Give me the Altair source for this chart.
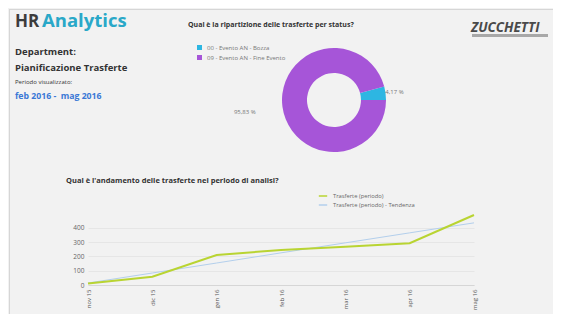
import math
import altair as alt
import pandas as pd

# ---------------- data ----------------
months = ["nov 15", "dic 15", "gen 16", "feb 16", "mar 16", "apr 16", "mag 16"]
trasferte = [10, 58, 210, 245, 268, 292, 490]
tendenza = [14, 84, 154, 225, 295, 365, 435]
series_names = ["Trasferte (periodo)", "Trasferte (periodo) - Tendenza"]
y_ticks = [0, 100, 200, 300, 400]

status = ["00 - Evento AN - Bozza", "09 - Evento AN - Fine Evento"]
status_pct = [4.17, 95.83]
status_labels = ["4,17 %", "95,83 %"]

FONT = "Open Sans"
GREEN = "#b9d432"
TREND = "#b3cfec"
BLUE = "#2db6e2"
PURPLE = "#a655d8"

line_df = pd.DataFrame({
    "month": months * 2,
    "value": trasferte + tendenza,
    "series": [series_names[0]] * len(months) + [series_names[1]] * len(months),
})
pie_df = pd.DataFrame({"status": status, "pct": status_pct, "label": status_labels})

# view = plot area of the line chart; origin at page (88, 215)
OX, OY = 88, 215
TOTAL_W, TOTAL_H = 545, 306


def vx(ax):
    return ax - OX


def vy(ay):
    return ay - OY


# ---------------- line chart ----------------
color_line = alt.Color(
    "series:N",
    scale=alt.Scale(domain=series_names, range=[GREEN, TREND]),
    legend=alt.Legend(
        orient="none", legendX=vx(318), legendY=vy(191), title=None,
        symbolType="stroke", symbolSize=70, symbolStrokeWidth=1.5,
        labelFontSize=5.8, labelColor="#666", labelFont=FONT,
        rowPadding=1, labelOffset=5,
    ),
)
xenc = alt.X(
    "month:N", sort=months, title=None,
    scale=alt.Scale(type="point", padding=0),
    axis=alt.Axis(labelAngle=-90, labelFontSize=6, labelColor="#555", labelFont=FONT,
                  ticks=False, domainColor="#d6d6d6", grid=False, labelPadding=4),
)
yenc = alt.Y(
    "value:Q", title=None,
    scale=alt.Scale(domain=[0, 490], nice=False),
    axis=alt.Axis(values=y_ticks, labelFontSize=6.5, labelColor="#666", labelFont=FONT,
                  ticks=False, domain=False, grid=True, gridColor="#e6e6e6", labelPadding=4),
)
trend_line = alt.Chart(line_df).transform_filter(
    alt.datum.series == series_names[1]
).mark_line(strokeWidth=1).encode(x=xenc, y=yenc, color=color_line)
main_line = alt.Chart(line_df).transform_filter(
    alt.datum.series == series_names[0]
).mark_line(strokeWidth=2).encode(x=xenc, y=yenc, color=color_line)
lines = alt.layer(trend_line, main_line)

# ---------------- donut ----------------
start = math.radians(75)
CX, CY = vx(334), vy(100)
donut_base = alt.Chart(pie_df).encode(
    theta=alt.Theta("pct:Q", stack=True, scale=alt.Scale(range=[start, start + 2 * math.pi])),
    order=alt.Order("status:N"),
)
arc = donut_base.mark_arc(outerRadius=52, innerRadius=27).encode(
    color=alt.Color(
        "status:N",
        scale=alt.Scale(domain=status, range=[BLUE, PURPLE]),
        legend=alt.Legend(
            orient="none", legendX=vx(196), legendY=vy(44), title=None,
            symbolType="square", symbolSize=25, labelFontSize=6, labelColor="#777",
            labelFont=FONT, rowPadding=3, labelOffset=4,
        ),
    ),
    x=alt.value(CX), y=alt.value(CY),
)
lab_small = donut_base.transform_calculate(
    t="datum.status == '" + status[0] + "' ? datum.label : ''"
).mark_text(radius=61, fontSize=6, color="#777", font=FONT).encode(
    text="t:N", x=alt.value(CX), y=alt.value(CY)
)
lab_big = donut_base.transform_calculate(
    t="datum.status == '" + status[1] + "' ? datum.label : ''"
).mark_text(radius=90, fontSize=6, color="#777", font=FONT).encode(
    text="t:N", x=alt.value(CX), y=alt.value(CY)
)


# ---------------- texts ----------------
def txt(s, ax, ay, size, color, weight="normal", style="normal"):
    return alt.Chart(pd.DataFrame({"t": [s]})).mark_text(
        align="left", baseline="alphabetic", fontSize=size, color=color,
        fontWeight=weight, fontStyle=style, font=FONT,
    ).encode(text="t:N", x=alt.value(vx(ax)), y=alt.value(vy(ay)))


texts = [
    txt("HR", 15, 27, 17, "#3c3c3c", "bold"),
    txt("Analytics", 42, 27, 18.5, "#2aa8c8", "bold"),
    txt("Department:", 15, 55, 9.5, "#333333", "bold"),
    txt("Pianificazione Trasferte", 15, 71, 9.5, "#333333", "bold"),
    txt("Periodo visualizzato:", 15, 84, 6, "#333333"),
    txt("feb 2016 -\u00a0\u00a0mag 2016", 15, 99, 8.7, "#3a78d6", "bold"),
    txt("Qual è la ripartizione delle trasferte per status?", 188, 27, 7, "#333333", "bold"),
    txt("Qual è l'andamento delle trasferte nel periodo di analisi?", 66, 183, 7.5, "#333333", "bold"),
    txt("ZUCCHETTI", 471, 32, 13.5, "#4a4a4a", "bold", "italic"),
]

one = pd.DataFrame({"a": [0]})
logo_bar = alt.Chart(one).mark_rule(color="#a8a8a8", strokeWidth=3).encode(
    x=alt.value(vx(472)), x2=alt.value(vx(548)), y=alt.value(vy(35.5)))
border_top = alt.Chart(one).mark_rule(color="#d6d6d6", strokeWidth=1).encode(
    x=alt.value(vx(9)), x2=alt.value(vx(561)), y=alt.value(vy(9.5)))
border_left = alt.Chart(one).mark_rule(color="#d6d6d6", strokeWidth=1).encode(
    x=alt.value(vx(9.5)), y=alt.value(vy(9)), y2=alt.value(vy(322)))

chart = alt.layer(
    border_top, border_left, lines, arc, lab_small, lab_big, logo_bar, *texts
).resolve_scale(color="independent").properties(
    width=474 - OX,
    height=285 - OY,
    autosize=alt.AutoSizeParams(type="none"),
    padding={"left": OX - 8, "top": OY - 8,
             "right": TOTAL_W - (474 - 8), "bottom": TOTAL_H - (285 - 8)},
    background="#f2f2f2",
).configure_view(stroke=None)

chart.save("out.html", embed_options={"renderer": "svg", "actions": False})
